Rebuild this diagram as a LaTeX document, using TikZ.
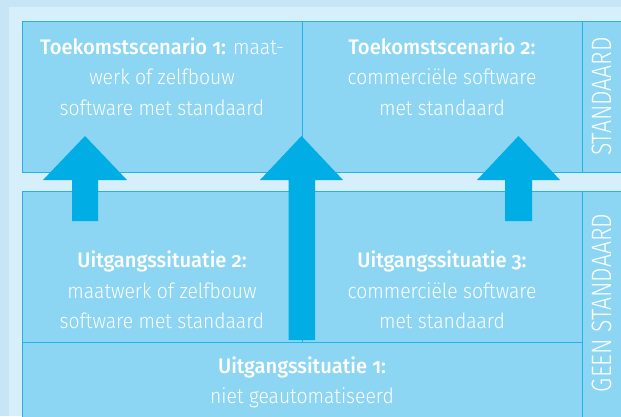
\documentclass[tikz,border=0pt]{standalone}
\usepackage{fontspec}
\setmainfont{Fira Sans Light}[BoldFont={Fira Sans Medium}, Numbers=OldStyle, UprightFeatures={FakeStretch=0.92}, BoldFeatures={FakeStretch=0.96}]
\newfontfamily\labelfont{Fira Sans Light}[FakeStretch=0.82]
\definecolor{outerbg}{HTML}{C6E5F6}
\definecolor{innerbg}{HTML}{D7EFFA}
\definecolor{boxfill}{HTML}{8DD6F3}
\definecolor{boxline}{HTML}{22B3E8}
\definecolor{arrowc}{HTML}{00AEE5}
\begin{document}
\begin{tikzpicture}[x=1pt,y=-1pt,
  box/.style={draw=boxline, fill=boxfill, line width=1pt, inner sep=0pt},
  txt/.style={text=white, align=center, font=\fontsize{21}{30.5}\selectfont, inner sep=0pt},
  vlabel/.style={text=white, rotate=90, font=\fontsize{28}{30}\labelfont, inner sep=0pt},
  blockarrow/.style={fill=arrowc}]
\useasboundingbox (0,0) rectangle (621,416);
\fill[outerbg] (0,0) rectangle (621,416);
\fill[innerbg] (9,7) rectangle (621,416);
% boxes
\node[box, anchor=north west, minimum width=280pt, minimum height=151pt] (t1) at (22,21) {};
\node[box, anchor=north west, minimum width=280pt, minimum height=151pt] (t2) at (302,21) {};
\node[box, anchor=north west, minimum width=45pt, minimum height=151pt] (ls) at (582,21) {};
\node[box, anchor=north west, minimum width=280pt, minimum height=151pt] (u2) at (22,191) {};
\node[box, anchor=north west, minimum width=280pt, minimum height=151pt] (u3) at (302,191) {};
\node[box, anchor=north west, minimum width=560pt, minimum height=80pt] (u1) at (22,342) {};
\node[box, anchor=north west, minimum width=45pt, minimum height=235pt] (lg) at (582,191) {};
% texts
\node[txt] (t1txt) at (162,76.5) {\textbf{Toekomstscenario 1:} maat-\\werk of zelfbouw\\software met standaard};
\node[txt] (t2txt) at (442,76.5) {\textbf{Toekomstscenario 2:}\\commerciële software\\met standaard};
\node[txt] (u2txt) at (162,290) {\textbf{Uitgangssituatie 2:}\\maatwerk of zelfbouw\\software met standaard};
\node[txt] (u3txt) at (442,290) {\textbf{Uitgangssituatie 3:}\\commerciële software\\met standaard};
\node[txt] (u1txt) at (302,382.5) {\textbf{Uitgangssituatie 1:}\\niet geautomatiseerd};
\node[vlabel] (lstxt) at (601.5,96.5) {STANDAARD};
\node[vlabel] (lgtxt) at (601.5,303) {GEEN STANDAARD};
% block arrows
\fill[blockarrow] (72,221) -- (72,180) -- (43,180) -- (85,136) -- (127,180) -- (98,180) -- (98,221) -- cycle;
\fill[blockarrow] (288.5,340) -- (288.5,180) -- (260,180) -- (301.5,136) -- (343,180) -- (315,180) -- (315,340) -- cycle;
\fill[blockarrow] (505,221) -- (505,180) -- (477,180) -- (518.5,136) -- (560,180) -- (532,180) -- (532,221) -- cycle;
\end{tikzpicture}
\end{document}
